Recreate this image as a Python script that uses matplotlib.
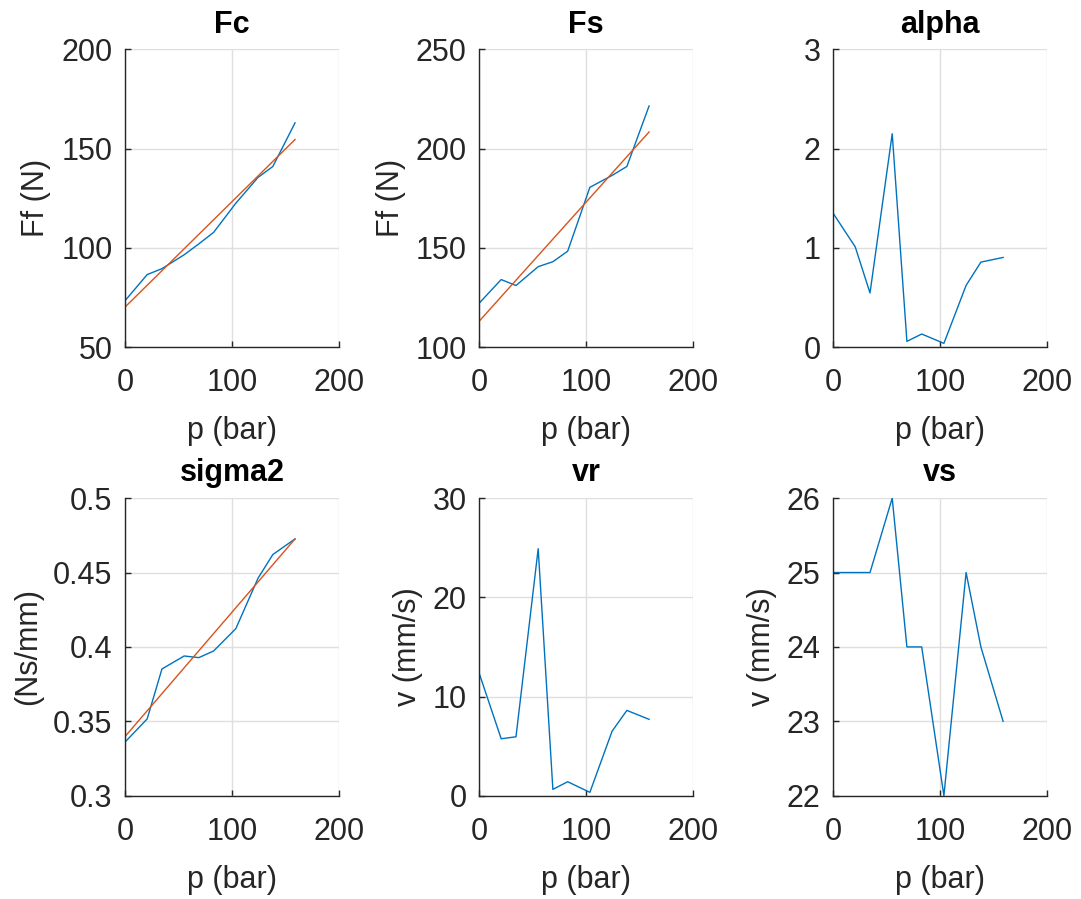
# friction parameters vs pressure, 2x3 grid in MATLAB look
import numpy as np
import matplotlib
matplotlib.use("Agg")
import matplotlib.pyplot as plt

# pressure points (bar)
p = [0, 20.7, 34.5, 55.2, 68.9, 82.7, 103.4, 124.1, 137.9, 158.6]

Fc = [73.3, 86.5, 89.5, 96.5, 102.0, 107.8, 122.5, 135.5, 141.0, 163.0]
Fc_fit = [70.1, 154.6]
Fs = [122.0, 134.0, 131.0, 140.5, 143.0, 148.3, 180.5, 186.5, 191.0, 221.5]
Fs_fit = [112.9, 208.4]
alpha = [1.35, 1.01, 0.545, 2.15, 0.057, 0.131, 0.037, 0.621, 0.856, 0.903]
sigma2 = [0.336, 0.3516, 0.3852, 0.3939, 0.3928, 0.3973, 0.4123, 0.4462, 0.4621, 0.4726]
sigma2_fit = [0.3397, 0.4726]
vr = [12.4, 5.74, 5.94, 24.9, 0.64, 1.41, 0.34, 6.5, 8.6, 7.7]
vs = [25, 25, 25, 26, 24, 24, 22, 25, 24, 23]

titles = ["Fc", "Fs", "alpha", "sigma2", "vr", "vs"]
ylabels = ["Ff (N)", "Ff (N)", "", "(Ns/mm)", "v (mm/s)", "v (mm/s)"]
ylims = [(50, 200), (100, 250), (0, 3), (0.3, 0.5), (0, 30), (22, 26)]
yticks = [[50, 100, 150, 200], [100, 150, 200, 250], [0, 1, 2, 3],
          [0.3, 0.35, 0.4, 0.45, 0.5], [0, 10, 20, 30], [22, 23, 24, 25, 26]]
ytlabels = [None, None, None, ["0.3", "0.35", "0.4", "0.45", "0.5"], None, None]
series = [Fc, Fs, alpha, sigma2, vr, vs]
fits = [Fc_fit, Fs_fit, None, sigma2_fit, None, None]

BLUE = "#0072BD"
RED = "#D95319"
DARK = "#262626"
FS = 22

plt.rcParams["font.family"] = ["Liberation Sans", "DejaVu Sans"]
plt.rcParams["font.size"] = FS

fig = plt.figure(figsize=(10.81, 8.99), dpi=100)

lefts = [0.1156, 0.4431, 0.7706]
bottoms = [0.614, 0.1149]
w, h = 0.1984, 0.331

for i in range(6):
    r, c = divmod(i, 3)
    ax = fig.add_axes([lefts[c], bottoms[r], w, h])
    ax.plot(p, series[i], color=BLUE, lw=1.0)
    if fits[i] is not None:
        ax.plot([p[0], p[-1]], fits[i], color=RED, lw=1.0)
    ax.set_xlim(0, 200)
    ax.set_ylim(*ylims[i])
    ax.set_xticks([0, 100, 200])
    ax.set_yticks(yticks[i])
    if ytlabels[i] is not None:
        ax.set_yticklabels(ytlabels[i])
    ax.grid(True, color="#dfdfdf", lw=1.0)
    ax.set_axisbelow(True)
    ax.spines["top"].set_visible(False)
    ax.spines["right"].set_visible(False)
    for s in ("left", "bottom"):
        ax.spines[s].set_color(DARK)
        ax.spines[s].set_linewidth(1.0)
    ax.tick_params(direction="in", length=4, width=1.0, colors=DARK,
                   labelsize=FS)
    ax.tick_params(axis="x", pad=15)
    ax.tick_params(axis="y", pad=9)
    ax.set_title(titles[i], fontsize=FS, fontweight="bold", color="black", pad=12)
    ax.set_xlabel("p (bar)", fontsize=FS, color=DARK, labelpad=13)
    if ylabels[i]:
        ax.set_ylabel(ylabels[i], fontsize=FS, color=DARK, labelpad=7)

fig.savefig("out.png", dpi=100)
